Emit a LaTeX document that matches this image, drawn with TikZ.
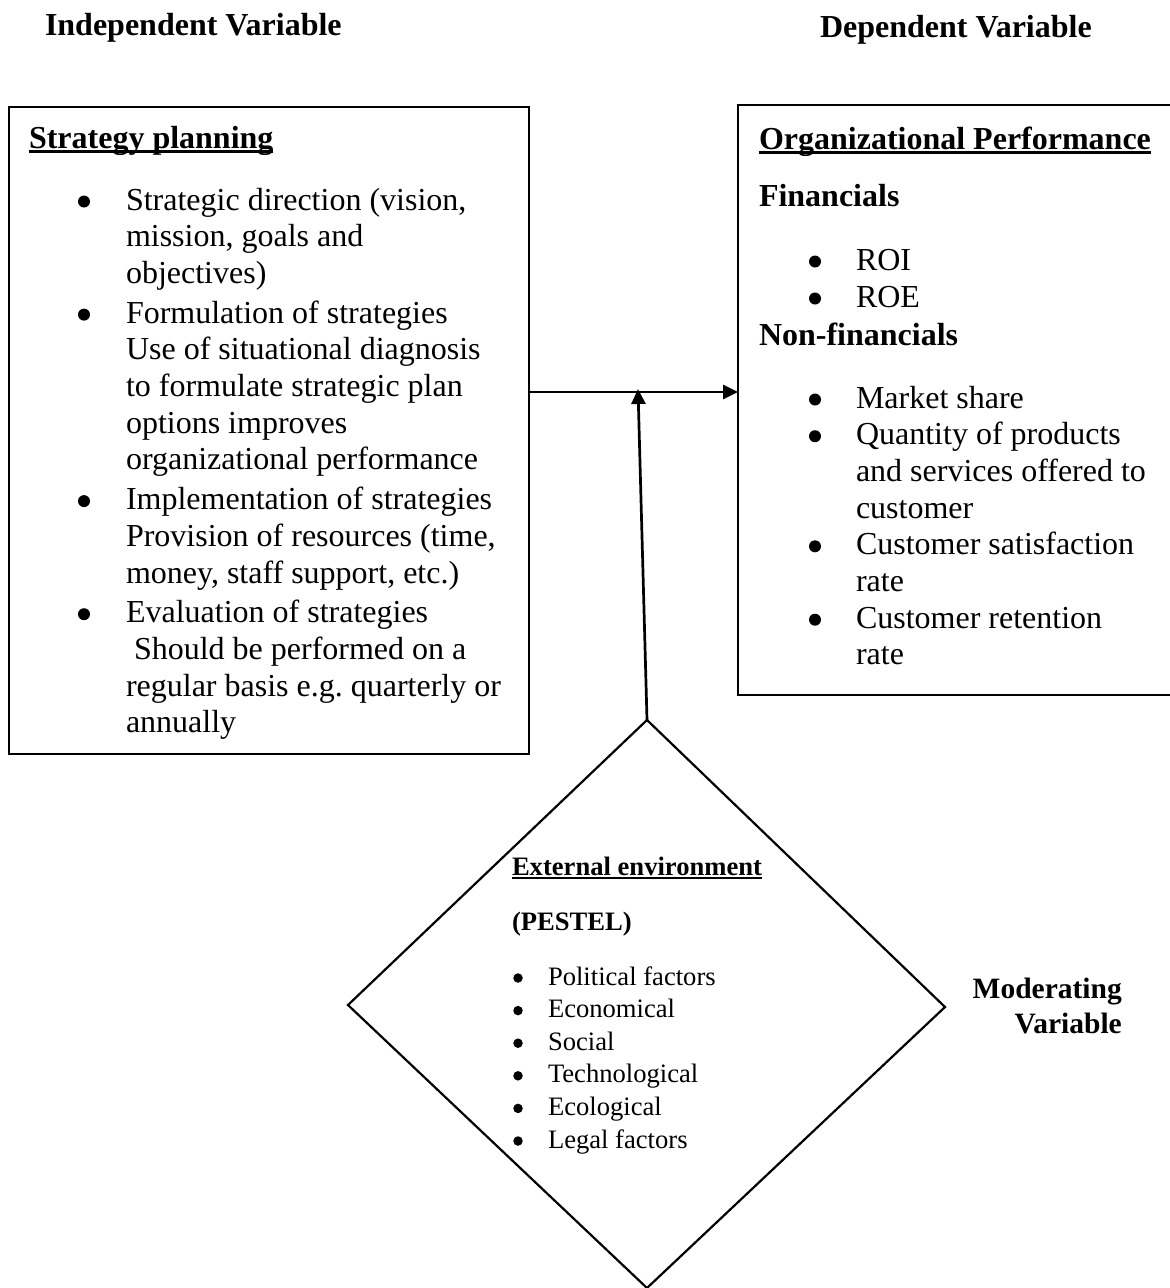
\documentclass[tikz,border=0pt]{standalone}
\usepackage{fontspec}
\setmainfont{Liberation Serif}
\usetikzlibrary{arrows.meta}
\frenchspacing
\newcommand\myul[2]{\setbox0\hbox{#2}\rlap{\rule[-#1]{\wd0}{2.7pt}}\box0}
\begin{document}
\begin{tikzpicture}[x=1pt,y=-1pt,
  txt/.style={anchor=base west, inner sep=0pt, outer sep=0pt, font=\fontsize{32}{36.7}\selectfont},
  btxt/.style={txt, font=\fontsize{32}{36.7}\selectfont\bfseries},
  stxt/.style={anchor=base west, inner sep=0pt, outer sep=0pt, font=\fontsize{26.6}{32}\selectfont},
  sbtxt/.style={stxt, font=\fontsize{26.6}{32}\selectfont\bfseries},
  bul/.style={circle, fill=black, draw=none, inner sep=0pt, minimum size=12pt},
  sbul/.style={circle, fill=black, draw=none, inner sep=0pt, minimum size=9.5pt},
  framebox/.style={draw, line width=2.7pt, inner sep=0pt, outer sep=0pt, anchor=north west},
  conn/.style={line width=2.7pt, -{Triangle[length=15pt,width=14pt]}},
  diamondline/.style={line width=2.2pt, line join=miter}]
\useasboundingbox (0,0) rectangle (1170,1288);

% titles
\node[btxt] (tind) at (45,35) {Independent Variable};
\node[btxt] (tdep) at (820,37) {Dependent Variable};

% left box
\node[framebox, minimum width=520pt, minimum height=647pt] (lbox) at (9,107) {};
\node[btxt] (lhead) at (29,148) {\myul{4.6pt}{Strategy planning}};
\node[bul] (lb1) at (84,201.5) {};
\node[bul] (lb2) at (84,314.6) {};
\node[bul] (lb3) at (84,501.1) {};
\node[bul] (lb4) at (84,614.2) {};
\node[txt] (l1) at (126,210) {Strategic direction (vision,};
\node[txt] (l2) at (126,246.7) {mission, goals and};
\node[txt] (l3) at (126,283.4) {objectives)};
\node[txt] (l4) at (126,323.1) {Formulation of strategies};
\node[txt] (l5) at (126,359.8) {Use of situational diagnosis};
\node[txt] (l6) at (126,396.5) {to formulate strategic plan};
\node[txt] (l7) at (126,433.2) {options improves};
\node[txt] (l8) at (126,469.9) {organizational performance};
\node[txt] (l9) at (126,509.6) {Implementation of strategies};
\node[txt] (l10) at (126,546.3) {Provision of resources (time,};
\node[txt] (l11) at (126,583) {money, staff support, etc.)};
\node[txt] (l12) at (126,622.7) {Evaluation of strategies};
\node[txt] (l13) at (126,659.4) {\ Should be performed on a};
\node[txt] (l14) at (126,696.1) {regular basis e.g. quarterly or};
\node[txt] (l15) at (126,732.8) {annually};

% right box
\node[framebox, minimum width=442pt, minimum height=590pt] (rbox) at (738,105) {};
\node[btxt] (rhead) at (759,149) {\myul{4.6pt}{Organizational Performance}};
\node[btxt] (rfin) at (759,206) {Financials};
\node[bul] (rb1) at (815,261.5) {};
\node[bul] (rb2) at (815,298.5) {};
\node[txt] (r1) at (856,270) {ROI};
\node[txt] (r2) at (856,307) {ROE};
\node[btxt] (rnon) at (759,345) {Non-financials};
\node[bul] (rb3) at (815,399.5) {};
\node[bul] (rb4) at (815,436.2) {};
\node[bul] (rb5) at (815,546.3) {};
\node[bul] (rb6) at (815,619.7) {};
\node[txt] (r3) at (856,408) {Market share};
\node[txt] (r4) at (856,444.7) {Quantity of products};
\node[txt] (r5) at (856,481.4) {and services offered to};
\node[txt] (r6) at (856,518.1) {customer};
\node[txt] (r7) at (856,554.8) {Customer satisfaction};
\node[txt] (r8) at (856,591.5) {rate};
\node[txt] (r9) at (856,628.2) {Customer retention};
\node[txt] (r10) at (856,664.9) {rate};

% diamond
\coordinate (dtop) at (647,720);
\coordinate (dright) at (945,1007);
\coordinate (dbot) at (647,1288);
\coordinate (dleft) at (348,1005);
\draw[diamondline] (dtop) -- (dright) -- (dbot) -- (dleft) -- cycle;
\node[sbtxt] (dhead) at (512,875) {\myul{4.2pt}{External environment}};
\node[sbtxt] (dpest) at (512,930) {(PESTEL)};
\node[sbul] (db1) at (518,978) {};
\node[sbul] (db2) at (518,1010.6) {};
\node[sbul] (db3) at (518,1043.2) {};
\node[sbul] (db4) at (518,1075.8) {};
\node[sbul] (db5) at (518,1108.4) {};
\node[sbul] (db6) at (518,1141) {};
\node[stxt] (d1) at (548,985) {Political factors};
\node[stxt] (d2) at (548,1017.6) {Economical};
\node[stxt] (d3) at (548,1050.2) {Social};
\node[stxt] (d4) at (548,1082.8) {Technological};
\node[stxt] (d5) at (548,1115.4) {Ecological};
\node[stxt] (d6) at (548,1148) {Legal factors};

% moderating label
\node[anchor=base east, inner sep=0pt, font=\fontsize{29.5}{35}\selectfont\bfseries] (mod1) at (1122,998) {Moderating};
\node[anchor=base east, inner sep=0pt, font=\fontsize{29.5}{35}\selectfont\bfseries] (mod2) at (1122,1033) {Variable};

% connectors
\coordinate (hstart) at (lbox.east |- 0,392);
\draw[conn] (hstart) -- (hstart -| rbox.west);
\coordinate (vtip) at (638,389);
\draw[conn] (dtop) -- (vtip);
\end{tikzpicture}
\end{document}
